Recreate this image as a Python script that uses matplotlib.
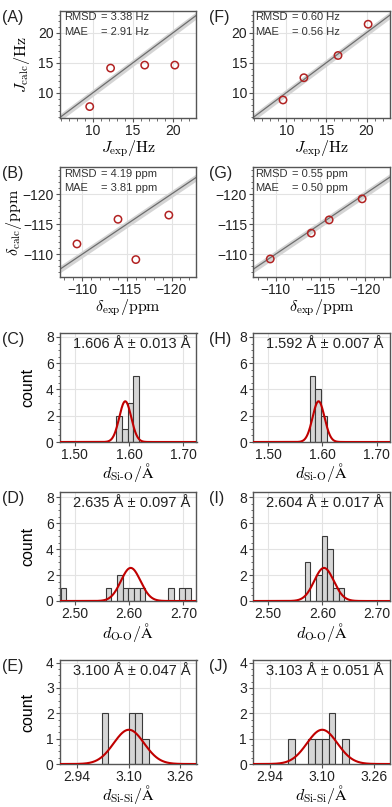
import numpy as np
import matplotlib.pyplot as plt
from matplotlib.ticker import MultipleLocator, FixedLocator

plt.rcParams['font.family'] = ['Liberation Sans', 'DejaVu Sans']
plt.rcParams['mathtext.fontset'] = 'cm'

# --- scatter data (J couplings, Hz) ---
j_exp = [9.6, 12.2, 16.45, 20.2]
j_calc_A = [7.7, 14.1, 14.6, 14.6]
j_calc_F = [8.8, 12.5, 16.2, 21.4]
j_stats_A = ['3.38 Hz', '2.91 Hz']
j_stats_F = ['0.60 Hz', '0.56 Hz']

# --- scatter data (chemical shifts, ppm) ---
d_exp = [-109.4, -114.0, -116.0, -119.7]
d_calc_B = [-111.7, -115.8, -109.1, -116.5]
d_calc_G = [-109.2, -113.5, -115.7, -119.2]
d_stats_B = ['4.19 ppm', '3.81 ppm']
d_stats_G = ['0.55 ppm', '0.50 ppm']

# --- histograms: bar left edges and counts ---
sio_w = 0.0105
sio_left = [1.5765, 1.587, 1.5975, 1.608]
sio_C = [2, 1, 3, 5]
sio_H = [5, 4, 2, 0]
sio_text = ['1.606 Å ± 0.013 Å', '1.592 Å ± 0.007 Å']
sio_fit = (1.593, 0.011, 3.1)   # centre, width, height of the red curve

oo_w = 0.0104
oo_left_D = [2.474, 2.5572, 2.578, 2.5884, 2.5988, 2.6092, 2.6196, 2.6716, 2.6924, 2.7028]
oo_D = [1, 1, 2, 1, 1, 1, 1, 1, 1, 1]
oo_left_I = [2.5676, 2.5884, 2.5988, 2.6092, 2.6196, 2.630]
oo_I = [3, 2, 5, 4, 1, 1]
oo_text = ['2.635 Å ± 0.097 Å', '2.604 Å ± 0.017 Å']
oo_fit = (2.603, 0.018, 2.55)

sisi_w = 0.0208
sisi_left_E = [3.0168, 3.100, 3.1208, 3.1416]
sisi_E = [2, 2, 2, 1]
sisi_left_J = [2.996, 3.0584, 3.0792, 3.100, 3.1208, 3.1624]
sisi_J = [1, 1, 1, 1, 2, 1]
sisi_text = ['3.100 Å ± 0.047 Å', '3.103 Å ± 0.051 Å']
sisi_fit = (3.101, 0.047, 1.35)
sisi_ticks = [2.94, 3.10, 3.26]

W, H = 392, 807
fig = plt.figure(figsize=(W / 100, H / 100), dpi=100)

col_x = [60, 253.3]
col_w = 136.5
rows = [(11, 118), (167, 277), (333, 442), (492, 601), (660, 764)]

spine_c = '#555555'
red = '#b22222'


def make_ax(col, row):
    top, bot = rows[row]
    ax = fig.add_axes([col_x[col] / W, 1 - bot / H, col_w / W, (bot - top) / H])
    for s in ax.spines.values():
        s.set_color(spine_c)
        s.set_linewidth(1.0)
    ax.tick_params(which='major', length=3, width=0.8, color=spine_c,
                   labelsize=10, pad=1.5, labelcolor='#222222')
    ax.tick_params(which='minor', length=1.8, width=0.6, color=spine_c)
    ax.grid(True, which='major', color='#e3e3e3', lw=0.8)
    ax.set_axisbelow(True)
    letter = 'ABCDEFGHIJ'[col * 5 + row]
    fig.text((2 if col == 0 else 209) / W, 1 - (top - 1) / H, f'({letter})',
             fontsize=11.5, va='top', ha='left', color='#222222')
    return ax


def set_labels(ax, row, xlabel, xgap, ylabel=None, yoff=-0.30):
    top, bot = rows[row]
    ax.set_xlabel(xlabel, fontsize=11.5)
    ax.xaxis.label.set_va('top')
    ax.xaxis.set_label_coords(0.5, -xgap / (bot - top))
    if ylabel:
        ax.set_ylabel(ylabel, fontsize=11.5)
        ax.yaxis.label.set_va('center')
        ax.yaxis.set_label_coords(yoff, 0.5)


def scatter_panel(col, row, x, y, stats, lim, major, xlabel, ylabel, yoff):
    ax = make_ax(col, row)
    ax.fill_between(lim, [lim[0] - 0.6, lim[1] - 0.6], [lim[0] + 0.6, lim[1] + 0.6],
                    color='#d4d4d4', lw=0, zorder=1)
    ax.plot(lim, lim, color='#6e6e6e', lw=0.9, zorder=2)
    ax.scatter(x, y, s=28, facecolors='none', edgecolors=red, linewidths=1.1, zorder=3)
    ax.set_xlim(lim)
    ax.xaxis.set_major_locator(MultipleLocator(major))
    ax.yaxis.set_major_locator(MultipleLocator(major))
    ax.xaxis.set_minor_locator(MultipleLocator(1))
    ax.yaxis.set_minor_locator(MultipleLocator(1))
    set_labels(ax, row, xlabel, 20, ylabel, yoff)
    x0 = 0.03 if col == 0 else 0.012
    for i, (name, val) in enumerate(zip(['RMSD', 'MAE'], stats)):
        yy = 0.94 - i * 0.135
        ax.text(x0, yy, name, transform=ax.transAxes, fontsize=8, va='center',
                color='#333333')
        ax.text(x0 + 0.27, yy, '= ' + val, transform=ax.transAxes, fontsize=8,
                va='center', color='#333333')
    return ax


def hist_panel(col, row, left, counts, width, fit, text, xlim, xticks, ylim, ymaj,
               ymin_, xlabel):
    ax = make_ax(col, row)
    ax.bar(left, counts, width=width, align='edge', color='#d6d6d6',
           edgecolor='#3a3a3a', lw=0.8, zorder=2)
    xs = np.linspace(xlim[0], xlim[1], 400)
    mu, sig, amp = fit
    ax.plot(xs, amp * np.exp(-0.5 * ((xs - mu) / sig) ** 2), color='#c00000',
            lw=1.5, zorder=3)
    ax.set_xlim(xlim)
    ax.set_ylim(ylim)
    ax.xaxis.set_major_locator(FixedLocator(xticks))
    ax.yaxis.set_major_locator(MultipleLocator(ymaj))
    ax.yaxis.set_minor_locator(MultipleLocator(ymin_))
    ax.xaxis.set_major_formatter(plt.FormatStrFormatter('%.2f'))
    ax.text(0.955, 0.895, text, transform=ax.transAxes, ha='right', va='center',
            fontsize=10.5, color='#222222')
    set_labels(ax, row, xlabel, 19.5, 'count' if col == 0 else None, -0.234)
    return ax


jlim = [5.9, 22.9]
for col, calc, stats in [(0, j_calc_A, j_stats_A), (1, j_calc_F, j_stats_F)]:
    ax = scatter_panel(col, 0, j_exp, calc, stats, jlim, 5,
                       r'$J_\mathrm{exp}/\mathrm{Hz}$',
                       r'$J_\mathrm{calc}/\mathrm{Hz}$' if col == 0 else None, -0.28)
    ax.set_ylim(5.8, 23.6)

dlim = [-107.5, -122.8]
for col, calc, stats in [(0, d_calc_B, d_stats_B), (1, d_calc_G, d_stats_G)]:
    ax = scatter_panel(col, 1, d_exp, calc, stats, dlim, 5,
                       r'$\delta_\mathrm{exp}/\mathrm{ppm}$',
                       r'$\delta_\mathrm{calc}/\mathrm{ppm}$' if col == 0 else None, -0.34)
    ax.set_ylim(-106.2, -124.5)

sio_ticks = [1.50, 1.60, 1.70]
oo_ticks = [2.50, 2.60, 2.70]
hist_panel(0, 2, sio_left, sio_C, sio_w, sio_fit, sio_text[0], (1.473, 1.724), sio_ticks,
           (0, 8.3), 2, 0.5, r'$d_\mathrm{Si\text{-}O}/\mathrm{\AA}$')
hist_panel(1, 2, sio_left, sio_H, sio_w, sio_fit, sio_text[1], (1.473, 1.724), sio_ticks,
           (0, 8.3), 2, 0.5, r'$d_\mathrm{Si\text{-}O}/\mathrm{\AA}$')
hist_panel(0, 3, oo_left_D, oo_D, oo_w, oo_fit, oo_text[0], (2.473, 2.724), oo_ticks,
           (0, 8.4), 2, 0.5, r'$d_\mathrm{O\text{-}O}/\mathrm{\AA}$')
hist_panel(1, 3, oo_left_I, oo_I, oo_w, oo_fit, oo_text[1], (2.473, 2.724), oo_ticks,
           (0, 8.4), 2, 0.5, r'$d_\mathrm{O\text{-}O}/\mathrm{\AA}$')
hist_panel(0, 4, sisi_left_E, sisi_E, sisi_w, sisi_fit, sisi_text[0], (2.888, 3.310),
           sisi_ticks, (0, 4.1), 1, 0.25, r'$d_\mathrm{Si\text{-}Si}/\mathrm{\AA}$')
hist_panel(1, 4, sisi_left_J, sisi_J, sisi_w, sisi_fit, sisi_text[1], (2.888, 3.310),
           sisi_ticks, (0, 4.1), 1, 0.25, r'$d_\mathrm{Si\text{-}Si}/\mathrm{\AA}$')

fig.savefig('out.png', dpi=100)
